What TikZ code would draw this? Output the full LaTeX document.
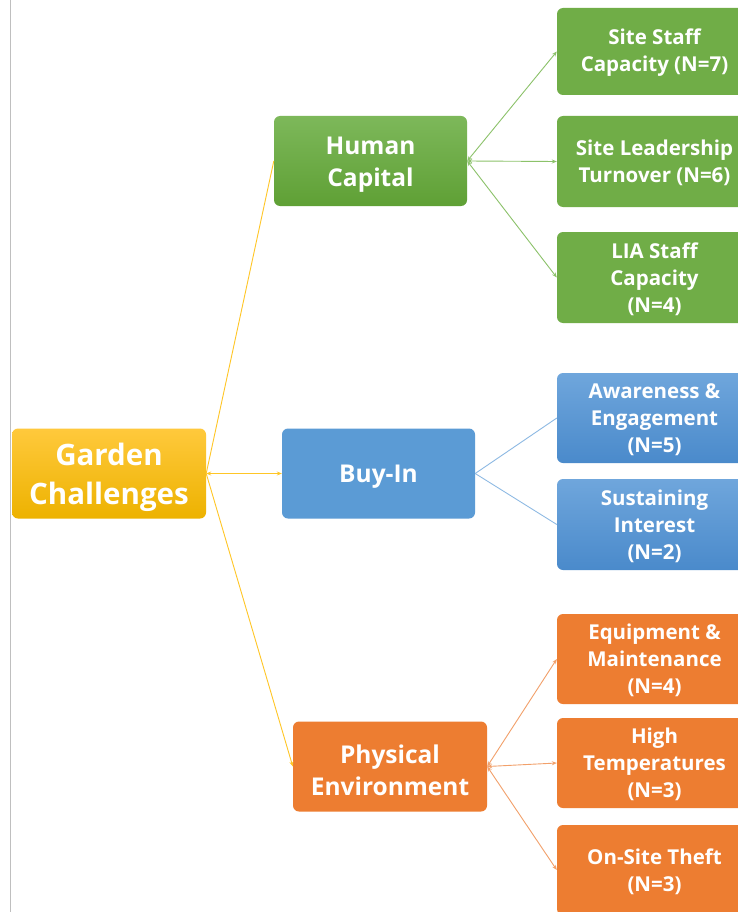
\documentclass[tikz,border=0pt]{standalone}
\usepackage{fontspec}
\setmainfont{Open Sans}
\usetikzlibrary{arrows.meta}
\definecolor{gtop}{HTML}{FFC93C}
\definecolor{gbot}{HTML}{EDB200}
\definecolor{gline}{HTML}{FFC626}
\definecolor{hctop}{HTML}{7DB85A}
\definecolor{hcbot}{HTML}{5FA035}
\definecolor{grn}{HTML}{70AD47}
\definecolor{gnline}{HTML}{8CC26A}
\definecolor{btop}{HTML}{6FA6DC}
\definecolor{bbot}{HTML}{4A8ACB}
\definecolor{blu}{HTML}{5B9BD5}
\definecolor{bline}{HTML}{8DB9E3}
\definecolor{org}{HTML}{ED7D31}
\definecolor{oline}{HTML}{F2A06A}
\tikzset{
  x=1pt,y=-1pt,
  >={Stealth[length=5pt,width=4pt]},
  box/.style={rectangle, rounded corners=6pt, inner sep=0pt, minimum height=90pt},
  txt/.style={text=white, align=center, inner sep=0pt},
  roottxt/.style={txt, yshift=-3.5pt, font=\bfseries\fontsize{29.5}{39}\selectfont},
  midtxt/.style={txt, yshift=-3.5pt, font=\bfseries\fontsize{24.5}{32}\selectfont},
  leaftxt/.style={txt, yshift=-1.5pt, font=\bfseries\fontsize{20.5}{27}\selectfont},
  rootbox/.style={box, minimum width=194pt, top color=gtop, bottom color=gbot},
  midgreen/.style={box, minimum width=193pt, top color=hctop, bottom color=hcbot},
  midblue/.style={box, minimum width=193pt, fill=blu},
  midorange/.style={box, minimum width=194pt, fill=org},
  leafgreen/.style={box, minimum width=195pt, fill=grn},
  leafblue/.style={box, minimum width=195pt, top color=btop, bottom color=bbot},
  leaforange/.style={box, minimum width=195pt, fill=org},
  conn/.style={line width=0.9pt}
}
\begin{document}
\begin{tikzpicture}
\useasboundingbox (0,0) rectangle (738,912);
\clip (0,0) rectangle (738,912);
\fill[white] (0,0) rectangle (738,912);
\draw[black!25, line width=1pt] (10,0) -- (10,912);

\node[rootbox, label={[roottxt]center:{Garden\\Challenges}}] (root) at (109,473.5) {};
\node[midgreen, label={[midtxt]center:{Human\\Capital}}] (hc) at (370.5,161) {};
\node[midblue, label={[midtxt]center:{Buy-In}}] (bi) at (378.5,473.5) {};
\node[midorange, label={[midtxt]center:{Physical\\Environment}}] (pe) at (390,766.5) {};

\node[leafgreen, minimum height=87pt, label={[leaftxt]center:{Site Staff\\Capacity (N=7)}}] (g1) at (654.5,51.5) {};
\node[leafgreen, minimum height=91pt, label={[leaftxt]center:{Site Leadership\\Turnover (N=6)}}] (g2) at (654.5,161.5) {};
\node[leafgreen, minimum height=91pt, label={[leaftxt]center:{LIA Staff\\Capacity\\(N=4)}}] (g3) at (654.5,277.5) {};

\node[leafblue, minimum height=90pt, label={[leaftxt]center:{Awareness \&\\Engagement\\(N=5)}}] (b1) at (654.5,418) {};
\node[leafblue, minimum height=91pt, label={[leaftxt]center:{Sustaining\\Interest\\(N=2)}}] (b2) at (654.5,524.5) {};

\node[leaforange, minimum height=90pt, label={[leaftxt]center:{Equipment \&\\Maintenance\\(N=4)}}] (o1) at (654.5,659) {};
\node[leaforange, minimum height=90pt, label={[leaftxt]center:{High\\Temperatures\\(N=3)}}] (o2) at (654.5,763) {};
\node[leaforange, minimum height=90pt, label={[leaftxt]center:{On-Site Theft\\(N=3)}}] (o3) at (654.5,870) {};

\draw[conn, gline] (root.east) -- (hc.west);
\draw[conn, gline, <->] (root.east) -- (bi.west);
\draw[conn, gline, ->] (root.east) -- (pe.west);

\draw[conn, gnline, <->] (hc.east) -- (g1.west);
\draw[conn, gnline, <->] (hc.east) -- (g2.west);
\draw[conn, gnline, <->] (hc.east) -- (g3.west);

\draw[conn, bline] (bi.east) -- (b1.west);
\draw[conn, bline] (bi.east) -- (b2.west);

\draw[conn, oline, <->] (pe.east) -- (o1.west);
\draw[conn, oline, <->] (pe.east) -- (o2.west);
\draw[conn, oline, <->] (pe.east) -- (o3.west);
\end{tikzpicture}
\end{document}
